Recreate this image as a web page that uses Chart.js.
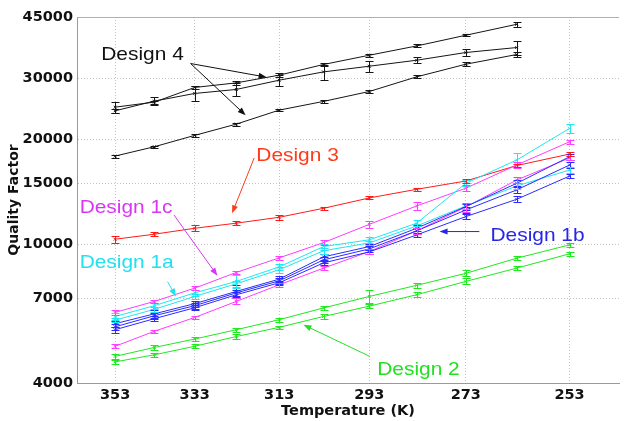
<!DOCTYPE html>
<html>
<head>
<meta charset="utf-8">
<script src="https://cdn.jsdelivr.net/npm/chart.js@4.4.1/dist/chart.umd.min.js"></script>
<style>
  html, body { margin: 0; padding: 0; background: #fff; }
  #wrap { width: 624px; height: 421px; }
</style>
</head>
<body>
<div id="wrap"><canvas id="chart" width="624" height="421"></canvas></div>
<script>
// temperatures (K), x axis is log scaled and runs hot -> cold
const temps = [353, 343, 333, 323, 313, 303, 293, 283, 273, 263, 253];
const xTicks = [353, 333, 313, 293, 273, 253];
const yTicks = [4000, 7000, 10000, 15000, 20000, 30000, 45000];

// Design 4 (black), measured only down to 263 K
const d4Top = [24790, 25630, 28240, 29110, 30630, 32870, 34950, 37160, 39880, 42880];
const d4Mid = [24200, 25800, 27140, 27870, 29630, 31300, 32500, 33810, 35580, 36770];
const d4Low = [17940, 19080, 20570, 22160, 24310, 25750, 27500, 30290, 32930, 35110];
// Design 3 (red)
const d3 = [10350, 10700, 11130, 11510, 11970, 12700, 13600, 14400, 15210, 16850, 18180];
// Design 1c (magenta)
const d1cTop = [6380, 6860, 7490, 8310, 9150, 10120, 11420, 12900, 14500, 16910, 19720];
const d1cLow = [5100, 5630, 6170, 6860, 7660, 8550, 9540, 10940, 12810, 15310, 17710];
// Design 1a (cyan)
const d1aTop = [6210, 6670, 7260, 7830, 8620, 9860, 10310, 11510, 14980, 17480, 21540];
const d1aLow = [6060, 6510, 7090, 7710, 8460, 9590, 10100, 11300, 12900, 14720, 16360];
// Design 1b (blue)
const d1bTop = [5920, 6320, 6760, 7330, 7950, 9210, 9860, 11130, 12840, 14980, 17860];
const d1bMid = [5800, 6240, 6670, 7260, 7860, 9030, 9710, 10940, 12560, 14340, 16910];
const d1bLow = [5690, 6120, 6580, 7170, 7760, 8850, 9520, 10650, 12020, 13480, 15720];
// Design 2 (green)
const d2Top = [4770, 5060, 5350, 5690, 6080, 6570, 7090, 7630, 8260, 9130, 9970];
const d2Low = [4600, 4820, 5100, 5440, 5780, 6210, 6650, 7170, 7830, 8550, 9400];

// error bar half widths, percent of value
const e4Top = [3.6, 1, 1.2, 1.5, 1.2, 1, 1, 1, 0.8, 1.5];
const e4Mid = [1.5, 2.5, 5, 4.4, 3.6, 5, 3.8, 2, 2.3, 4.6];
const e4Low = [1, 0.8, 1.2, 1, 0.8, 0.8, 1, 1, 1.2, 1.5];
const e3 = [2.5, 1.5, 2, 1.5, 1.5, 1, 1, 1, 1.5, 1.2, 1.5];
const e1cTop = [1.5, 1.2, 1.2, 1.2, 1.5, 1.5, 2.5, 2.5, 2, 2, 1.5];
const e1cLow = [1.2, 1.2, 1.2, 2, 1.5, 1.5, 1.5, 2, 3, 2, 1.5];
const e1aTop = [2, 2, 2, 4.5, 2, 2, 2, 2, 2, 4.5, 3];
const e1aLow = [1.5, 1.5, 1.5, 2, 2, 2, 1.5, 1.5, 2, 2, 2];
const e1bTop = [2, 2.5, 2, 4, 2, 2, 2, 2, 2, 2, 2];
const e1bMid = [2, 2, 2, 2, 2, 2, 2, 2, 2, 2, 2];
const e1bLow = [2, 1.5, 1.5, 1.5, 1.5, 1.5, 1.5, 1.5, 1.5, 2, 1.5];
const e2Top = [1.5, 1.5, 1.5, 1.2, 1.2, 1.5, 4.5, 1.5, 2, 1.5, 1.5];
const e2Low = [1.5, 1.2, 1.2, 1.5, 1.2, 1.5, 1.5, 1.5, 2, 1.5, 1.5];

const BLACK = '#151515', RED = '#ff1a1a', MAGENTA = '#ff3cff', CYAN = '#1ee6f2', BLUE = '#2b2bff', GREEN = '#1ee81e';

function series(vals, errs, color) {
  return {
    data: vals.map((v, i) => ({ x: temps[i], y: v })),
    err: errs,
    borderColor: color,
    backgroundColor: color,
    borderWidth: 1,
    pointRadius: 2,
    pointStyle: 'crossRot',
    pointBorderWidth: 1,
    tension: 0
  };
}

// text notes with arrows, anchored in data units (T, Q)
const notes = [
  { text: 'Design 4', color: '#111111', at: [356.6, 33810],
    arrows: [[[334.0, 33080], [315.9, 30220]], [[334.0, 33080], [320.8, 23500]]] },
  { text: 'Design 3', color: '#ff3a1a', at: [318.3, 17420],
    arrows: [[[318.8, 17710], [324.0, 12290]]] },
  { text: 'Design 1c', color: '#d835f5', at: [362.3, 12290],
    arrows: [[[338.1, 12150], [327.5, 8130]]] },
  { text: 'Design 1a', color: '#22e0ee', at: [362.3, 8570],
    arrows: [[[339.7, 7820], [337.6, 7090]]] },
  { text: 'Design 1b', color: '#2626e6', at: [268.1, 10240],
    arrows: [[[270.3, 10890], [278.3, 10890]]] },
  { text: 'Design 2', color: '#22e022', at: [291.3, 4210],
    arrows: [[[292.9, 4770], [307.5, 5880]]] }
];

const errorBars = {
  id: 'errorBars',
  afterDatasetsDraw(chart) {
    const { ctx, scales: { x, y } } = chart;
    ctx.save();
    ctx.lineWidth = 1;
    chart.data.datasets.forEach(ds => {
      ctx.strokeStyle = ds.borderColor;
      ctx.beginPath();
      ds.data.forEach((p, i) => {
        const e = ds.err[i] / 100 * p.y;
        const px = Math.round(x.getPixelForValue(p.x)) + 0.5;
        const y1 = Math.round(y.getPixelForValue(p.y + e)) + 0.5;
        const y2 = Math.round(y.getPixelForValue(p.y - e)) + 0.5;
        ctx.moveTo(px, y1); ctx.lineTo(px, y2);
        ctx.moveTo(px - 4, y1); ctx.lineTo(px + 4, y1);
        ctx.moveTo(px - 4, y2); ctx.lineTo(px + 4, y2);
      });
      ctx.stroke();
    });
    ctx.restore();
  }
};

const frame = {
  id: 'frame',
  beforeDatasetsDraw(chart) {
    const { ctx, chartArea: a } = chart;
    ctx.save();
    ctx.strokeStyle = '#b0b0b0';
    ctx.lineWidth = 1;
    ctx.beginPath();
    ctx.moveTo(a.left, Math.round(a.top) + 0.5);
    ctx.lineTo(a.right, Math.round(a.top) + 0.5);
    ctx.stroke();
    ctx.restore();
  }
};

const annotations = {
  id: 'annotations',
  afterDraw(chart) {
    const { ctx, scales: { x, y } } = chart;
    const pt = d => [x.getPixelForValue(d[0]), y.getPixelForValue(d[1])];
    ctx.save();
    notes.forEach(n => {
      ctx.fillStyle = n.color;
      ctx.strokeStyle = n.color;
      ctx.lineWidth = 1;
      n.arrows.forEach(([s, e]) => {
        const [x1, y1] = pt(s), [x2, y2] = pt(e);
        const ang = Math.atan2(y2 - y1, x2 - x1);
        ctx.beginPath();
        ctx.moveTo(x1, y1);
        ctx.lineTo(x2 - 6 * Math.cos(ang), y2 - 6 * Math.sin(ang));
        ctx.stroke();
        ctx.beginPath();
        ctx.moveTo(x2, y2);
        ctx.lineTo(x2 - 8 * Math.cos(ang) + 3 * Math.sin(ang), y2 - 8 * Math.sin(ang) - 3 * Math.cos(ang));
        ctx.lineTo(x2 - 8 * Math.cos(ang) - 3 * Math.sin(ang), y2 - 8 * Math.sin(ang) + 3 * Math.cos(ang));
        ctx.closePath();
        ctx.fill();
      });
      const [tx, ty] = pt(n.at);
      ctx.save();
      ctx.translate(tx, ty);
      ctx.scale(1.1, 1);
      ctx.font = '19px "Liberation Sans", Arial, sans-serif';
      ctx.textBaseline = 'alphabetic';
      ctx.fillText(n.text, 0, 0);
      ctx.restore();
    });
    ctx.restore();
  }
};

const tickFont = { family: 'DejaVu Sans', weight: 'bold', size: 14.5 };

new Chart(document.getElementById('chart'), {
  type: 'line',
  data: {
    datasets: [
      series(d1bTop, e1bTop, BLUE),
      series(d1bMid, e1bMid, BLUE),
      series(d1bLow, e1bLow, BLUE),
      series(d1aTop, e1aTop, CYAN),
      series(d1aLow, e1aLow, CYAN),
      series(d1cTop, e1cTop, MAGENTA),
      series(d1cLow, e1cLow, MAGENTA),
      series(d3, e3, RED),
      series(d2Top, e2Top, GREEN),
      series(d2Low, e2Low, GREEN),
      series(d4Top, e4Top, BLACK),
      series(d4Mid, e4Mid, BLACK),
      series(d4Low, e4Low, BLACK)
    ]
  },
  options: {
    responsive: false,
    animation: false,
    layout: { padding: { top: 17, right: 2, left: 0, bottom: 0 } },
    plugins: { legend: { display: false }, tooltip: { enabled: false } },
    scales: {
      x: {
        type: 'logarithmic',
        reverse: true,
        min: 244,
        max: 363,
        afterBuildTicks: s => { s.ticks = xTicks.map(v => ({ value: v })); },
        afterFit: s => { s.height = 38; },
        ticks: { autoSkip: false, maxRotation: 0, padding: 4, color: '#111', font: tickFont, callback: v => String(v) },
        grid: { color: '#c4c4c4', drawTicks: false },
        border: { display: true, color: '#9a9a9a', dash: [1, 2] },
        title: { display: true, text: 'Temperature (K)', color: '#111',
          font: { family: 'DejaVu Sans', weight: 'bold', size: 14.5 }, padding: { top: 0, bottom: 1 } }
      },
      y: {
        type: 'logarithmic',
        min: 4000,
        max: 45000,
        afterBuildTicks: s => { s.ticks = yTicks.map(v => ({ value: v })); },
        afterFit: s => { s.width = 77; },
        ticks: { autoSkip: false, padding: 4, color: '#111', font: tickFont, callback: v => String(v) },
        grid: { color: '#c4c4c4', drawTicks: false },
        border: { display: true, color: '#9a9a9a', dash: [1, 2] },
        title: { display: true, text: 'Quality Factor', color: '#111',
          font: { family: 'DejaVu Sans', weight: 'bold', size: 14 }, padding: { top: 6, bottom: 0 } }
      }
    }
  },
  plugins: [frame, errorBars, annotations]
});
</script>
</body>
</html>
